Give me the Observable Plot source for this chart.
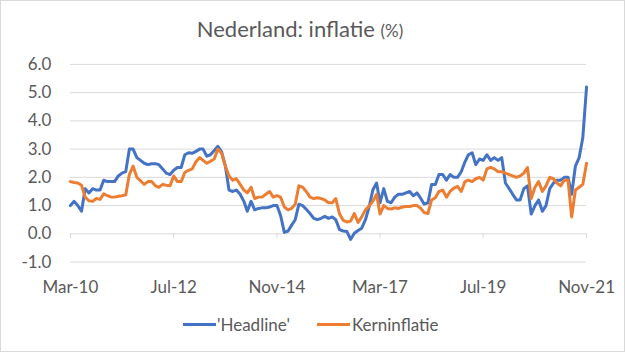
<!DOCTYPE html>
<html>
<head>
<meta charset="utf-8">
<script src="https://cdn.jsdelivr.net/npm/d3@7"></script>
<script src="https://cdn.jsdelivr.net/npm/@observablehq/plot@0.6"></script>
<style>
  html, body { margin: 0; padding: 0; background: #fff; }
  #chart { position: relative; width: 625px; height: 352px; box-sizing: border-box; border: 1px solid #d9d9d9; overflow: hidden; font-family: Lato, sans-serif; color: #595959; background: #fff; }
  #title { position: absolute; left: 299px; top: 17px; transform: translateX(-50%); white-space: nowrap; font-size: 22px; line-height: 22px; }
  #title .unit { font-size: 17px; }
  #plot { position: absolute; left: -1px; top: -1px; }
  .lg { position: absolute; font-size: 17px; line-height: 17px; white-space: nowrap; }
  .sw { position: absolute; height: 3px; }
</style>
</head>
<body>
<div id="chart">
  <div id="plot"></div>
  <div id="title">Nederland: inflatie <span class="unit">(%)</span></div>
  <div class="sw" style="left:182px;top:322px;width:33px;background:#4472C4"></div>
  <div class="lg" style="left:216px;top:315px">'Headline'</div>
  <div class="sw" style="left:316px;top:322px;width:33px;background:#ED7D31"></div>
  <div class="lg" style="left:351px;top:315px">Kerninflatie</div>
</div>
<script>
// Monthly series, Mar-2010 .. Nov-2021 (141 months)
const firstMonth = "2010-03";
const lastMonth = "2021-11";

const headline = [
  // 2010 (Mar-Dec)
  1.0, 1.15, 1.0, 0.8, 1.6, 1.45, 1.6, 1.55, 1.55, 1.9,
  // 2011
  1.85, 1.85, 1.85, 2.05, 2.15, 2.2, 3.0, 3.0, 2.7, 2.6, 2.5, 2.45,
  // 2012
  2.48, 2.48, 2.45, 2.3, 2.15, 2.1, 2.25, 2.35, 2.35, 2.8, 2.87, 2.85,
  // 2013
  2.92, 3.0, 3.0, 2.75, 2.8, 2.95, 3.1, 2.9, 2.4, 1.55, 1.5, 1.55,
  // 2014
  1.4, 1.15, 0.8, 1.15, 0.85, 0.9, 0.92, 0.92, 0.95, 1.0, 1.0, 0.65,
  // 2015
  0.05, 0.1, 0.3, 0.5, 1.05, 1.0, 0.87, 0.72, 0.55, 0.5, 0.55, 0.62,
  // 2016
  0.55, 0.6, 0.5, 0.15, 0.1, 0.08, -0.2, 0.02, 0.12, 0.2, 0.5, 0.95,
  // 2017
  1.55, 1.8, 1.1, 1.6, 1.15, 1.1, 1.3, 1.4, 1.4, 1.45, 1.5, 1.35,
  // 2018
  1.45, 1.25, 1.05, 1.1, 1.75, 1.75, 2.1, 2.1, 1.9, 2.1, 2.0, 2.0,
  // 2019
  2.2, 2.55, 2.8, 2.87, 2.45, 2.65, 2.6, 2.8, 2.6, 2.7, 2.6, 2.7,
  // 2020
  1.8, 1.6, 1.4, 1.2, 1.2, 1.6, 1.7, 0.7, 1.0, 1.2, 0.8, 1.0,
  // 2021 (Jan-Nov)
  1.6, 1.8, 1.9, 1.9, 2.0, 2.0, 1.4, 2.4, 2.7, 3.4, 5.2
];

const kerninflatie = [
  // 2010 (Mar-Dec)
  1.85, 1.82, 1.8, 1.72, 1.3, 1.17, 1.15, 1.25, 1.22, 1.42,
  // 2011
  1.35, 1.3, 1.3, 1.33, 1.35, 1.38, 2.1, 2.4, 2.0, 1.88, 1.75, 1.85,
  // 2012
  1.85, 1.7, 1.65, 1.75, 1.72, 1.7, 2.05, 1.85, 1.85, 2.17, 2.25, 2.3,
  // 2013
  2.55, 2.7, 2.6, 2.5, 2.57, 2.65, 3.0, 2.85, 2.4, 2.05, 1.9, 1.95,
  // 2014
  1.75, 1.55, 1.45, 1.65, 1.25, 1.3, 1.3, 1.4, 1.5, 1.3, 1.35, 1.3,
  // 2015
  0.95, 0.85, 0.9, 1.05, 1.7, 1.65, 1.5, 1.3, 1.25, 1.28, 1.25, 1.2,
  // 2016
  1.1, 1.1, 1.25, 0.7, 0.48, 0.42, 0.45, 0.72, 0.4, 0.6, 0.85, 0.98,
  // 2017
  1.15, 1.4, 0.7, 1.0, 0.9, 0.88, 0.92, 0.9, 0.95, 0.97, 0.97, 1.0,
  // 2018
  1.0, 0.9, 0.75, 0.72, 1.2, 1.28, 1.5, 1.55, 1.3, 1.5, 1.62, 1.68,
  // 2019
  1.5, 1.85, 1.9, 1.85, 1.95, 2.0, 1.9, 2.3, 2.35, 2.3, 2.2, 2.2,
  // 2020
  2.15, 2.1, 2.05, 2.0, 2.05, 2.15, 2.35, 1.25, 1.65, 1.85, 1.5, 1.7,
  // 2021 (Jan-Nov)
  2.0, 1.95, 1.8, 1.7, 1.9, 1.9, 0.6, 1.55, 1.65, 1.75, 2.5
];

const xTickLabels = ["Mar-10", "Jul-12", "Nov-14", "Mar-17", "Jul-19", "Nov-21"];
const yTicks = [-1, 0, 1, 2, 3, 4, 5, 6];

// build table
const parseMonth = d3.utcParse("%Y-%m");
const months = d3.utcMonth.range(parseMonth(firstMonth), d3.utcMonth.offset(parseMonth(lastMonth), 1));
const rows = months.map((date, i) => ({date, headline: headline[i], kern: kerninflatie[i]}));

const parseTick = d3.utcParse("%b-%y");
const xTickDates = xTickLabels.map(parseTick);
const tickLabelOf = new Map(xTickDates.map((d, i) => [+d, xTickLabels[i]]));

const chart = Plot.plot({
  width: 625,
  height: 300,
  marginTop: 64,
  marginBottom: 38,
  marginLeft: 70,
  marginRight: 38,
  style: {fontFamily: "Lato, sans-serif", fontSize: "17px", color: "#595959", background: "transparent", overflow: "visible"},
  x: {type: "utc", domain: [months[0], months[months.length - 1]]},
  y: {domain: [-1, 6]},
  marks: [
    Plot.ruleY(yTicks, {stroke: "#d9d9d9", strokeWidth: 1}),
    Plot.ruleX(xTickDates, {y1: 0, y2: 0, insetBottom: -5, stroke: "#d9d9d9", strokeWidth: 1}),
    Plot.axisY(yTicks, {tickSize: 0, tickPadding: 19, tickFormat: d => d.toFixed(1), label: null}),
    Plot.axisX(xTickDates, {tickSize: 0, tickPadding: 19, tickFormat: d => tickLabelOf.get(+d), label: null}),
    Plot.lineY(rows, {x: "date", y: "headline", stroke: "#4472C4", strokeWidth: 3, strokeLinejoin: "round", strokeLinecap: "round"}),
    Plot.lineY(rows, {x: "date", y: "kern", stroke: "#ED7D31", strokeWidth: 3, strokeLinejoin: "round", strokeLinecap: "round"})
  ]
});
document.getElementById("plot").appendChild(chart);
</script>
</body>
</html>
